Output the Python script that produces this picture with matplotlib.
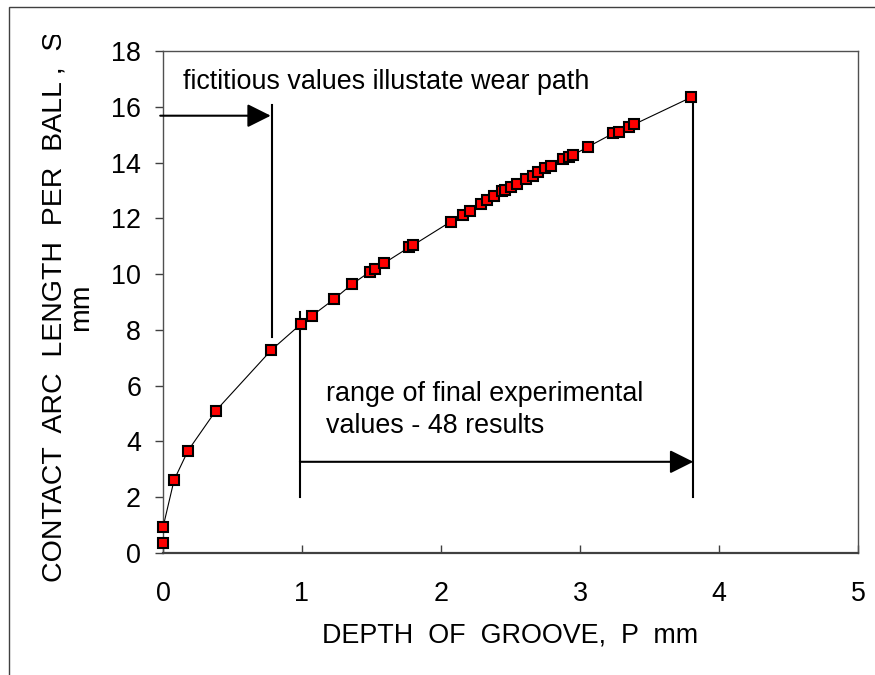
import matplotlib
matplotlib.use("Agg")
import matplotlib.pyplot as plt
from matplotlib.patches import Rectangle
from matplotlib.transforms import Bbox

plt.rcParams['font.family'] = ['Liberation Sans', 'DejaVu Sans']

# groove depth P (mm) and contact arc length S (mm)
depth = [0.0, 0.0, 0.08, 0.18, 0.38, 0.78,
         0.99, 1.07, 1.23, 1.36, 1.49, 1.525, 1.59, 1.77, 1.80,
         2.07, 2.16, 2.21, 2.29, 2.33, 2.38, 2.44, 2.46, 2.50, 2.55,
         2.61, 2.66, 2.70, 2.75, 2.79, 2.88, 2.92, 2.95, 3.06,
         3.24, 3.28, 3.35, 3.39, 3.80]
arc = [0.35, 0.92, 2.62, 3.67, 5.10, 7.28,
       8.20, 8.50, 9.10, 9.64, 10.09, 10.20, 10.39, 10.96, 11.04,
       11.88, 12.12, 12.26, 12.53, 12.66, 12.80, 12.98, 13.00, 13.11, 13.22,
       13.41, 13.53, 13.67, 13.79, 13.88, 14.13, 14.21, 14.27, 14.57,
       15.05, 15.10, 15.26, 15.37, 16.34]

xticks = [0, 1, 2, 3, 4, 5]
yticks = [0, 2, 4, 6, 8, 10, 12, 14, 16, 18]

fs = 19.4
fig = plt.figure(figsize=(8.75, 6.75), dpi=100)
ax = fig.add_axes([163/875, 1 - 553/675, 695/875, 502/675])

ax.plot(depth, arc, color='black', lw=0.8, zorder=2)
ax.plot(depth, arc, ls='none', marker='s', ms=7.2, mfc='#ff0000', mec='black',
        mew=1.5, zorder=3, clip_on=False)

ax.set_xlim(0, 5)
ax.set_ylim(0, 18)
ax.set_xticks(xticks)
ax.set_yticks(yticks)
ax.tick_params(axis='x', direction='in', length=5.8, width=1, color='#404040',
               labelsize=fs, pad=20)
ax.tick_params(axis='y', direction='out', length=5.8, width=1, color='#404040',
               labelsize=fs, pad=10)
for s in ax.spines.values():
    s.set_color('#505050')
    s.set_linewidth(1)
ax.spines['bottom'].set_linewidth(1.6)
ax.spines['bottom'].set_color('#404040')

# wear path annotation (fictitious values)
arw = dict(arrowstyle='-|>,head_length=1.0,head_width=0.5', color='black',
           lw=1.5, shrinkA=0, shrinkB=0, mutation_scale=14.4)
ax.annotate('', xy=(0.775, 15.68), xytext=(-0.02, 15.68),
            arrowprops=arw, annotation_clip=False)
ax.plot([0.785, 0.785], [16.06, 7.74], color='black', lw=1.5)
ax.text(0.141, 16.64, 'fictitious values illustate wear path', fontsize=fs,
        va='baseline', ha='left')

# experimental range annotation
ax.annotate('', xy=(3.815, 3.27), xytext=(0.985, 3.27), arrowprops=arw)
ax.plot([0.985, 0.985], [8.64, 2.0], color='black', lw=1.5)
ax.plot([3.815, 3.815], [16.13, 2.0], color='black', lw=1.5, zorder=1)
ax.text(1.173, 4.31, 'range of final experimental\nvalues - 48 results',
        fontsize=fs, va='baseline', ha='left', linespacing=1.3)

fig.text(510/875, 1 - 635/675, 'DEPTH  OF  GROOVE,  P  mm', fontsize=fs,
         ha='center', va='center')
yl = fig.text(68/875, 1 - 307/675,
              'CONTACT  ARC  LENGTH  PER  BALL ,  S\nmm',
              fontsize=20.5, ha='center', va='center', rotation=90,
              multialignment='center', linespacing=1.05)
yl.set_clip_box(Bbox.from_extents(0, 0, 875, 675 - 35))
yl.set_clip_on(True)

fig.patches.append(Rectangle((8.5/875, -0.1), 1.2, 1.1 - 6.5/675,
                             transform=fig.transFigure, fill=False,
                             ec='#404040', lw=1))

fig.savefig('out.png', dpi=100)
